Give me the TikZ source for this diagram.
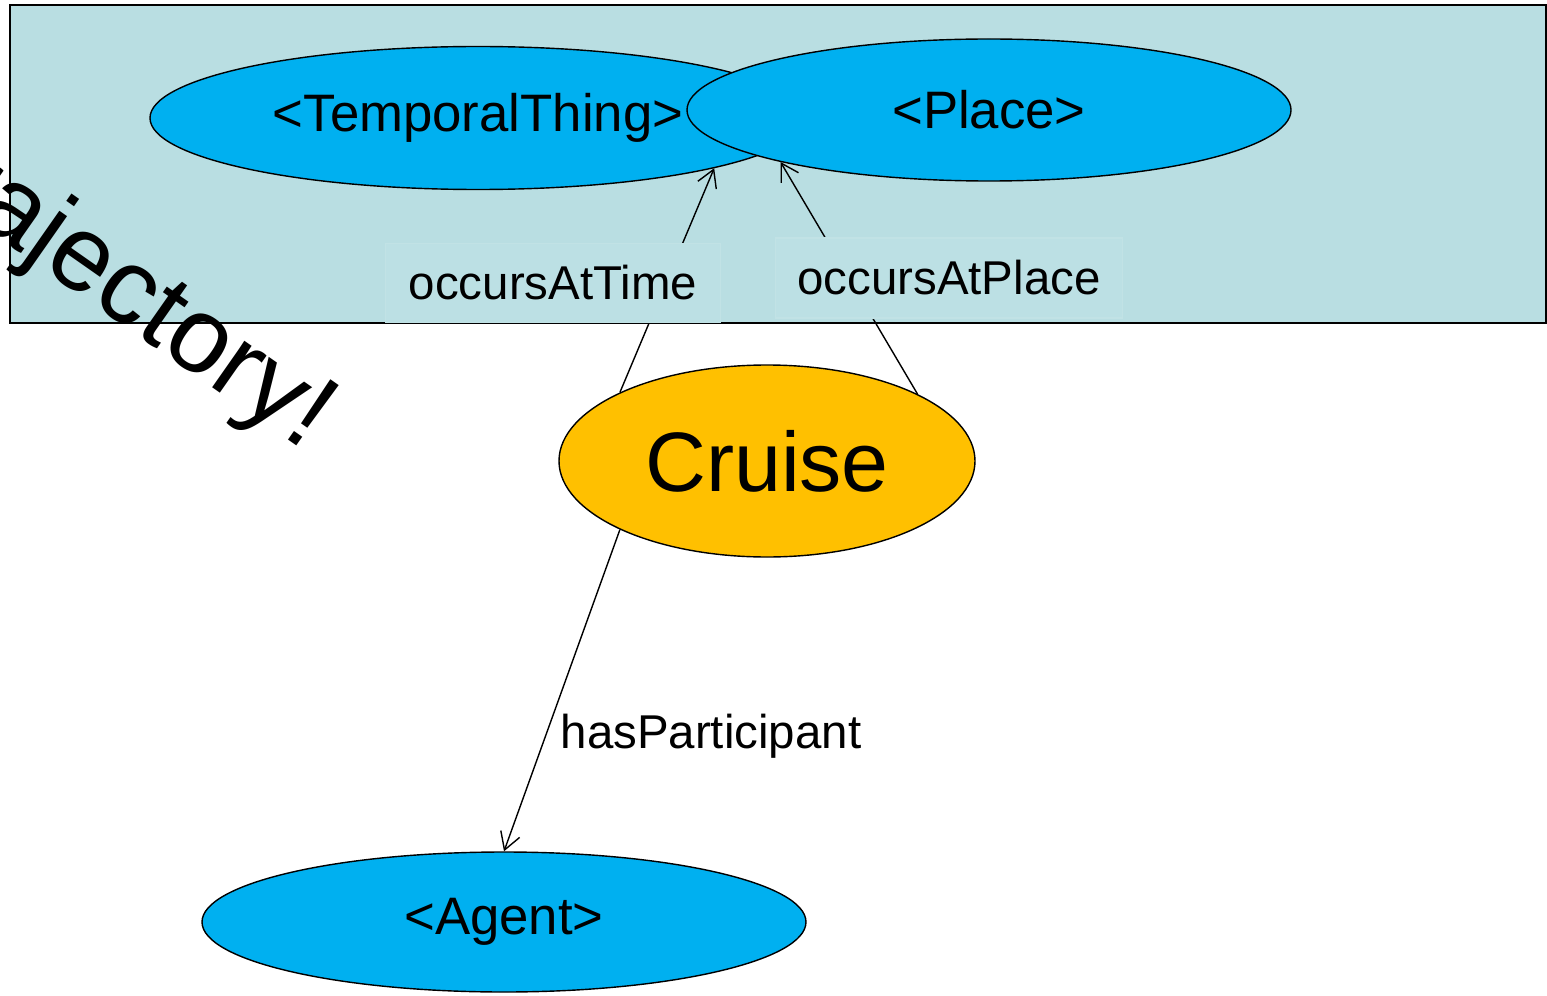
\documentclass[tikz,border=0pt]{standalone}
\usepackage{fontspec}
\setmainfont{Liberation Sans}
\usetikzlibrary{arrows.meta,shapes.geometric}

\definecolor{frameblue}{RGB}{185,222,226}
\definecolor{labelblue}{RGB}{188,224,228}
\definecolor{classblue}{RGB}{0,176,240}
\definecolor{eventyellow}{RGB}{255,192,0}

\begin{document}
\begin{tikzpicture}[
		classnode/.style={ellipse, draw=black, fill=classblue, inner sep=0pt, font=\fontsize{15}{18}\selectfont},
		eventnode/.style={ellipse, draw=black, fill=eventyellow, inner sep=0pt, font=\fontsize{24}{29}\selectfont},
		relbox/.style={rectangle, draw=white!12!frameblue, fill=labelblue, inner sep=0pt, font=\fontsize{13.5}{16}\selectfont},
		relation/.style={-{Straight Barb[length=1.7mm, width=2mm]}}
	]
				\useasboundingbox (0.00, 0.00) rectangle (15.47, 9.95);
				\clip (0.00, 0.00) rectangle (15.47, 9.95);
				\draw[line width=0.6pt, fill=frameblue] (0.10, 9.90) rectangle (15.46, 6.72);

				\node[classnode, minimum width=6.56cm, minimum height=1.43cm] (temporal) at (4.78, 8.77) {<TemporalThing>};
				\node[classnode, minimum width=6.04cm, minimum height=1.42cm] (place) at (9.89, 8.85) {<Place>};
				\node[eventnode, minimum width=4.16cm, minimum height=1.92cm] (cruise) at (7.67, 5.34) {Cruise};
				\node[classnode, minimum width=6.04cm, minimum height=1.40cm] (agent) at (5.04, 0.73) {<Agent>};

				\draw[relation] (cruise.155) -- (temporal.-12.4);
				\draw[relation] (cruise.24.7) -- (place.-166.8);
				\draw[relation] (cruise.205) -- (agent.north);

				\node[relbox, minimum width=3.35cm, minimum height=0.79cm] (timelabel) at (5.53, 7.12) {occursAtTime};
				\node[relbox, minimum width=3.47cm, minimum height=0.80cm] (placelabel) at (9.49, 7.17) {occursAtPlace};
				\node[font=\fontsize{13.5}{16}\selectfont] (agentlabel) at (7.11, 2.59) {hasParticipant};

				\node[font=\fontsize{30.5}{36}\selectfont, rotate=-35, anchor=base east, inner sep=0pt] (trajectory) at (3.05, 5.43) {Trajectory!};
			\end{tikzpicture}
\end{document}
